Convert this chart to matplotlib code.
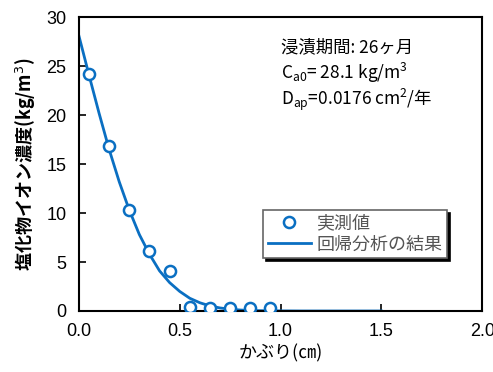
import matplotlib
matplotlib.use("Agg")
import matplotlib.pyplot as plt

plt.rcParams['font.family'] = ['Noto Sans CJK JP', 'DejaVu Sans']

# measured chloride concentration
depth = [0.05, 0.15, 0.25, 0.35, 0.45, 0.55, 0.65, 0.75, 0.85, 0.95]
conc = [24.2, 16.8, 10.3, 6.1, 4.1, 0.4, 0.3, 0.3, 0.3, 0.3]

# regression curve
fit_x = [0.0, 0.05, 0.10, 0.15, 0.20, 0.25, 0.30, 0.35, 0.40, 0.45, 0.50,
         0.55, 0.60, 0.65, 0.70, 0.75, 0.80, 0.85, 0.90, 1.0, 1.1, 1.5]
fit_y = [28.1, 24.1, 20.2, 16.5, 13.2, 10.3, 7.8, 5.8, 4.1, 2.9, 2.0,
         1.3, 0.84, 0.52, 0.31, 0.18, 0.10, 0.05, 0.03, 0.01, 0.0, 0.0]

blue = '#0A6FC2'

fig = plt.figure(figsize=(4.93, 3.72), dpi=100)
ax = fig.add_axes([0.160, 0.164, 0.818, 0.790])

ax.plot(fit_x, fit_y, color=blue, lw=2, label='回帰分析の結果', zorder=2)
ax.plot(depth, conc, 'o', ms=8, mfc='white', mec=blue, mew=1.8,
        label='実測値', zorder=3)

ax.set_xlim(0, 2.0)
ax.set_ylim(0, 30)
ax.set_xticks([0.0, 0.5, 1.0, 1.5, 2.0])
ax.set_xticklabels(['0.0', '0.5', '1.0', '1.5', '2.0'])
ax.set_yticks(range(0, 31, 5))
ax.tick_params(direction='in', length=5, width=1.2, labelsize=13, pad=9)
for lbl in ax.get_xticklabels() + ax.get_yticklabels():
    lbl.set_family(['Liberation Sans', 'DejaVu Sans'])
for s in ax.spines.values():
    s.set_linewidth(1.5)

ax.set_xlabel('かぶり(㎝)', fontsize=13, labelpad=3)
ax.set_ylabel('塩化物イオン濃度(kg/m$^3$)', fontsize=13, fontweight='bold', labelpad=6)

ax.text(0.50, 0.88, '浸漬期間: 26ヶ月', transform=ax.transAxes, fontsize=12.5)
ax.text(0.50, 0.79, 'C$_{\\mathregular{a0}}$= 28.1 kg/m$^{\\mathregular{3}}$',
        transform=ax.transAxes, fontsize=12.5)
ax.text(0.50, 0.70, 'D$_{\\mathregular{ap}}$=0.0176 cm$^{\\mathregular{2}}$/年',
        transform=ax.transAxes, fontsize=12.5)

handles, labels = ax.get_legend_handles_labels()
leg = ax.legend(handles[::-1], labels[::-1], loc='lower right',
                bbox_to_anchor=(0.935, 0.15), fontsize=13, fancybox=False,
                shadow={'color': 'black', 'alpha': 1}, edgecolor='#666666',
                handlelength=2.4, borderpad=0.25, labelspacing=0.15,
                handletextpad=0.3)
leg.get_frame().set_linewidth(1.2)
for t in leg.get_texts():
    t.set_color('#555555')

fig.savefig('out.png', dpi=100)
